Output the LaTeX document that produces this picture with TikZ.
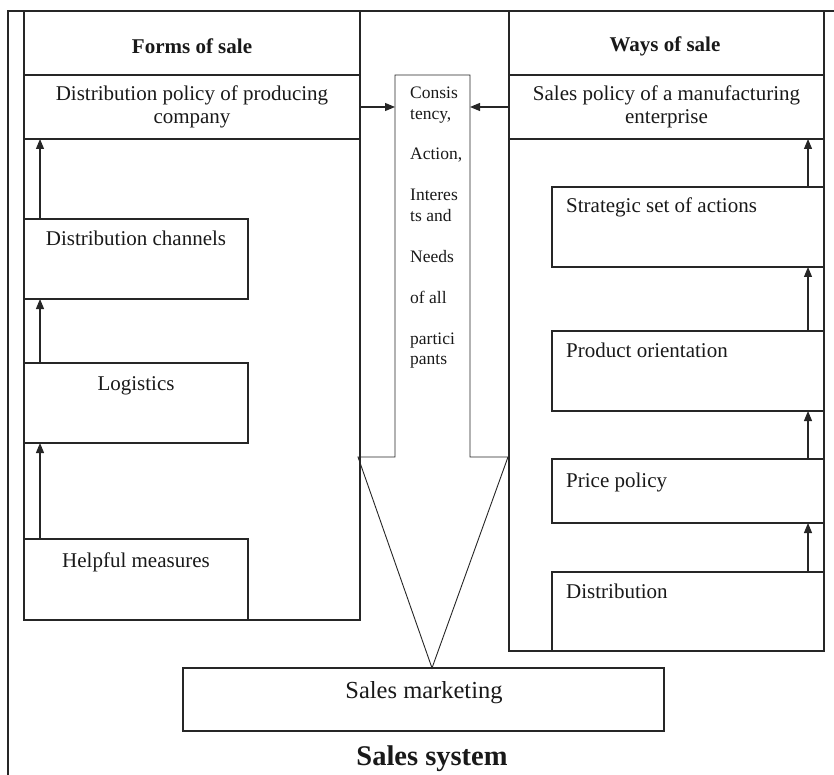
\documentclass[tikz,border=0pt]{standalone}
\usepackage{fontspec}
\setmainfont{Liberation Serif}
\usetikzlibrary{arrows.meta,calc}
\begin{document}
\begin{tikzpicture}[x=1pt,y=-1pt,
  ln/.style={draw=black!85,line width=1.1pt},
  box/.style={ln,rectangle,inner sep=0pt,outer sep=0pt,anchor=north west},
  arr/.style={ln,-{Triangle[length=10pt,width=8pt]}},
  mainf/.style={text=black!90,font=\fontsize{21}{23}\selectfont},
  headf/.style={text=black!90,font=\bfseries\fontsize{21}{23}\selectfont},
  ctf/.style={text=black!90,font=\fontsize{17.5}{20}\selectfont,anchor=base west,inner sep=0pt},
  lbl/.style={mainf,anchor=base,inner sep=0pt},
  lblw/.style={mainf,anchor=base west,inner sep=0pt},
]
\useasboundingbox (0,0) rectangle (834,775);
% outer frame
\draw[ln] (8,775) -- (8,11) -- (834,11);

% left panel
\node[box,minimum width=336,minimum height=609] (lp) at (24,11) {};
\node[headf] (lph) at (192,46) {Forms of sale};
\node[box,anchor=center,minimum width=336,minimum height=64,align=center,mainf] (dp) at (192,107) {Distribution policy of producing\\company};
\node[box,minimum width=224,minimum height=80] (dc) at (24,219) {};
\node[box,minimum width=224,minimum height=80] (lg) at (24,363) {};
\node[box,minimum width=224,minimum height=81] (hm) at (24,539) {};
\node[lbl] (dct) at (136,246) {Distribution channels};
\node[lbl] (lgt) at (136,390) {Logistics};
\node[lbl] (hmt) at (136,567) {Helpful measures};
\draw[arr] ($(hm.north west)+(16,0)$) -- ($(lg.south west)+(16,0)$);
\draw[arr] ($(lg.north west)+(16,0)$) -- ($(dc.south west)+(16,0)$);
\draw[arr] ($(dc.north west)+(16,0)$) -- ($(dp.south west)+(16,0)$);

% right panel
\node[box,minimum width=315,minimum height=640] (rp) at (509,11) {};
\node[headf] (rph) at (665,46) {Ways of sale};
\node[box,anchor=center,minimum width=315,minimum height=64,align=center,mainf] (sp) at (666.5,107) {Sales policy of a manufacturing\\enterprise};
\node[box,minimum width=272,minimum height=80] (sa) at (552,187) {};
\node[box,minimum width=272,minimum height=80] (po) at (552,331) {};
\node[box,minimum width=272,minimum height=64] (pp) at (552,459) {};
\node[box,minimum width=272,minimum height=79] (di) at (552,572) {};
\node[lblw] (sat) at (566,213) {Strategic set of actions};
\node[lblw] (pot) at (566,357) {Product orientation};
\node[lblw] (ppt) at (566,487) {Price policy};
\node[lblw] (dit) at (566,598) {Distribution};
\draw[arr] ($(di.north east)+(-16,0)$) -- ($(pp.south east)+(-16,0)$);
\draw[arr] ($(pp.north east)+(-16,0)$) -- ($(po.south east)+(-16,0)$);
\draw[arr] ($(po.north east)+(-16,0)$) -- ($(sa.south east)+(-16,0)$);
\draw[arr] ($(sa.north east)+(-16,0)$) -- ($(sp.south east)+(-16,0)$);

% sales marketing box
\node[box,minimum width=481,minimum height=63] (sm) at (183,668) {};
\node[lbl,font=\fontsize{24.5}{26}\selectfont] (smt) at (424,698) {Sales marketing};
\node[headf,anchor=base,inner sep=0pt,font=\bfseries\fontsize{28.5}{30}\selectfont] (sys) at (432,765) {Sales system};

% central arrow
\node[draw=none,minimum width=75,minimum height=382,anchor=north west,inner sep=0pt,outer sep=0pt] (shaft) at (395,75) {};
\coordinate (tip) at ($(sm.north west)+(249,0)$);
\coordinate (lw) at (358,457);
\coordinate (rw) at (508,457);
\draw[ln,line width=0.9pt] (shaft.south west) -- (shaft.north west) -- (shaft.north east) -- (shaft.south east) -- (rw) -- (tip) -- (lw) -- cycle;
\node[ctf] (c1) at (410,99) {Consis};
\node[ctf] (c2) at (410,120) {tency,};
\node[ctf] (c3) at (410,160) {Action,};
\node[ctf] (c4) at (410,201) {Interes};
\node[ctf] (c5) at (410,222) {ts and};
\node[ctf] (c6) at (410,263) {Needs};
\node[ctf] (c7) at (410,303) {of all};
\node[ctf] (c8) at (410,344) {partici};
\node[ctf] (c9) at (410,364) {pants};

% connectors into the arrow
\draw[arr] (dp.east) -- (dp.east -| shaft.west);
\draw[arr] (sp.west) -- (sp.west -| shaft.east);
\end{tikzpicture}
\end{document}
